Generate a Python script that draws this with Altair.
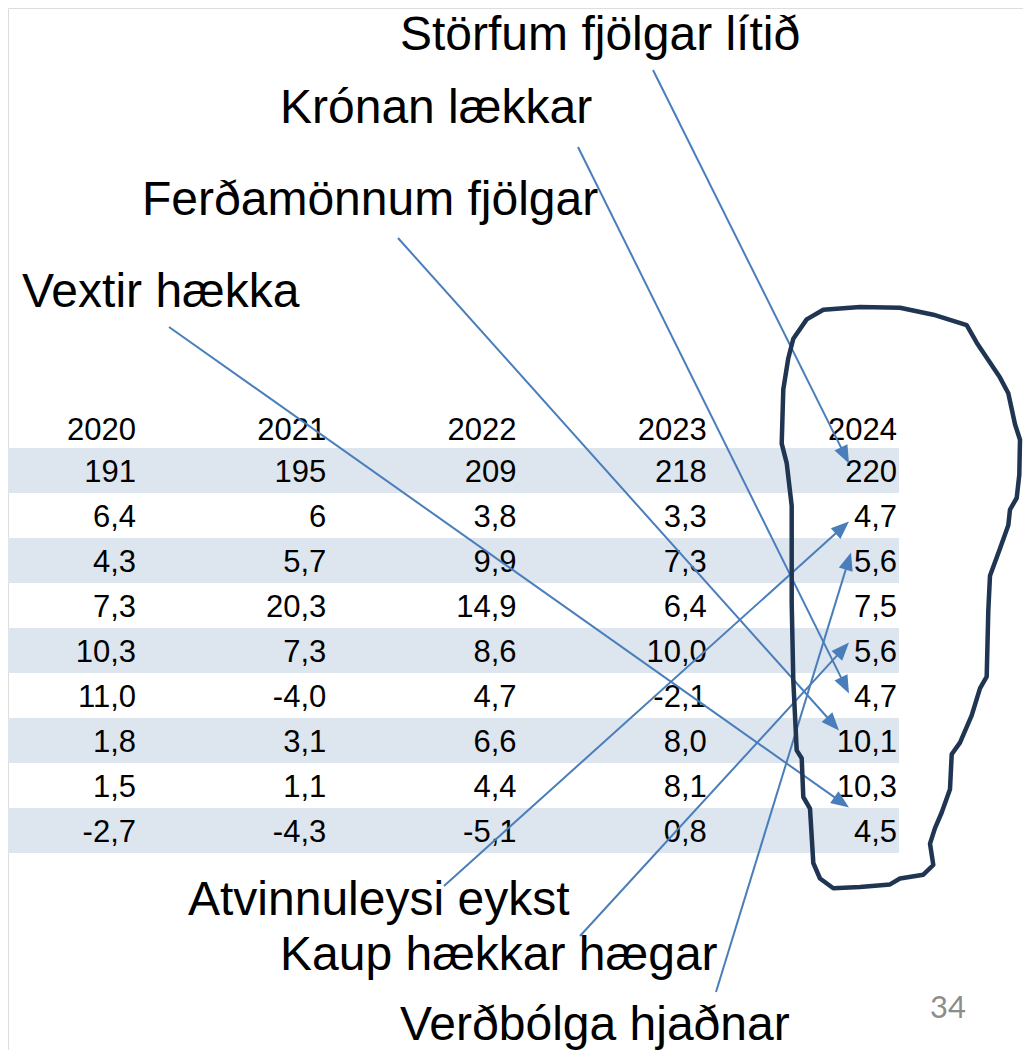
import math
import altair as alt
import pandas as pd

# ---------------- data ----------------
years = ["2020", "2021", "2022", "2023", "2024"]
v2020 = ["191", "6,4", "4,3", "7,3", "10,3", "11,0", "1,8", "1,5", "-2,7"]
v2021 = ["195", "6", "5,7", "20,3", "7,3", "-4,0", "3,1", "1,1", "-4,3"]
v2022 = ["209", "3,8", "9,9", "14,9", "8,6", "4,7", "6,6", "4,4", "-5,1"]
v2023 = ["218", "3,3", "7,3", "6,4", "10,0", "-2,1", "8,0", "8,1", "0,8"]
v2024 = ["220", "4,7", "5,6", "7,5", "5,6", "4,7", "10,1", "10,3", "4,5"]
columns = [v2020, v2021, v2022, v2023, v2024]

labels = ["Störfum fjölgar lítið", "Krónan lækkar", "Ferðamönnum fjölgar",
          "Vextir hækka", "Atvinnuleysi eykst", "Kaup hækkar hægar",
          "Verðbólga hjaðnar"]
label_target_row = [0, 5, 6, 7, 1, 4, 2]   # row in the 2024 column each arrow points to
page_number = "34"

# ---------------- layout (pixels) ----------------
W, H = 1015, 1042
COL_RIGHT0, COL_STEP = 136, 190.25
HEADER_BASE = 440
ROW_TOP0, ROW_H = 448, 45
STRIPE_RIGHT = 899
label_pos = [(400, 50), (280, 123), (142, 215), (22, 307),
             (188, 915), (280, 970), (400, 1040)]
arrow_start = [(653, 70), (578, 147), (398, 238), (169, 327),
               (444, 886), (580, 936), (716, 992)]
arrow_tip = [(849, -7), (849, -2), (839, -10), (849, 22),
             (849, 6), (849, -8), (851, -8)]   # x, offset from row centre
loop_x = [806.7, 823.3, 860, 900, 933.3, 966.7, 976.7, 1000, 1008.3, 1015, 1020,
          1019.3, 1016.7, 1010, 1008.3, 1000, 990, 988.3, 986.7, 980, 971.7, 960,
          951.7, 950, 941.7, 935, 930, 933.3, 923.3, 900, 890, 860, 833.3, 820,
          813.3, 810, 803.3, 801.7, 796.7, 793.3, 791.7, 791.7, 786.7, 781.7,
          783.3, 788.3, 793.3, 806.7]
loop_y = [319.4, 309.7, 307, 307.7, 314.7, 325.2, 342.7, 377.6, 393.2, 424.2, 439.8,
          474.7, 498, 509.6, 525.2, 548.5, 575.7, 610.6, 676.6, 688.3, 715.4, 742.6,
          754.3, 789.2, 812.5, 828.1, 843.6, 865, 874.7, 878.5, 884.4, 887.1, 888.2,
          878.5, 863, 808.6, 797, 758.2, 750.4, 680.5, 603, 505.9, 463.1, 443.6,
          389.3, 358.2, 338.8, 319.4]

BLUE = "#4A7EBB"
NAVY = "#1F3552"
STRIPE = "#DDE5EF"
NUM_FONT = "Liberation Sans Narrow, Arial Narrow, Liberation Sans, Arial, sans-serif"
LBL_FONT = "Liberation Sans, Arial, sans-serif"

X = lambda f="x": alt.X(f"{f}:Q", scale=alt.Scale(domain=[8, 8 + W], nice=False, zero=False), axis=None)
Y = lambda f="y": alt.Y(f"{f}:Q", scale=alt.Scale(domain=[8, 8 + H], nice=False, zero=False, reverse=True), axis=None)


def row_centre(i):
    return ROW_TOP0 + ROW_H * (i + 0.5)


# stripes
nrows = len(v2020)
stripes = pd.DataFrame({
    "x": [0] * nrows, "x2": [STRIPE_RIGHT] * nrows,
    "y": [ROW_TOP0 + ROW_H * i for i in range(nrows)],
    "y2": [ROW_TOP0 + ROW_H * (i + 1) for i in range(nrows)],
    "shade": [i % 2 == 0 for i in range(nrows)],
})
stripes = stripes[stripes["shade"]]

# table cells
cells = []
for c, (yr, vals) in enumerate(zip(years, columns)):
    xr = COL_RIGHT0 + COL_STEP * c
    cells.append({"x": xr, "y": HEADER_BASE, "t": yr})
    for r, v in enumerate(vals):
        cells.append({"x": xr, "y": row_centre(r) + 11.5, "t": v})
cells = pd.DataFrame(cells)

# arrows
arrows, heads = [], []
for i, lab in enumerate(labels):
    sx, sy = arrow_start[i]
    tx = arrow_tip[i][0]
    ty = row_centre(label_target_row[i]) + arrow_tip[i][1]
    dx, dy = tx - sx, ty - sy
    L = math.hypot(dx, dy)
    ux, uy = dx / L, dy / L
    arrows.append({"x": sx, "y": sy, "x2": tx - 8 * ux, "y2": ty - 8 * uy})
    heads.append({"x": tx - 9 * ux, "y": ty - 9 * uy,
                  "a": math.degrees(math.atan2(dx, -dy)) % 360})
arrows = pd.DataFrame(arrows)
heads = pd.DataFrame(heads)

lbls = pd.DataFrame({"x": [p[0] for p in label_pos], "y": [p[1] for p in label_pos], "t": labels})
loop = pd.DataFrame({"x": loop_x, "y": loop_y, "o": list(range(len(loop_x)))})
pg = pd.DataFrame({"x": [966], "y": [1018], "t": [page_number]})

stripe_layer = alt.Chart(stripes).mark_rect(color=STRIPE).encode(
    x=X(), x2="x2:Q", y=Y(), y2="y2:Q")

cell_layer = alt.Chart(cells).mark_text(
    align="right", baseline="alphabetic", font=NUM_FONT, fontSize=31, color="#000000"
).encode(x=X(), y=Y(), text="t:N")

arrow_layer = alt.Chart(arrows).mark_rule(color=BLUE, strokeWidth=2).encode(
    x=X(), y=Y(), x2="x2:Q", y2="y2:Q")

head_layer = alt.Chart(heads).mark_point(
    shape="M0,-1L-0.8,1L0.8,1Z", filled=True, size=324, color=BLUE, opacity=1, strokeWidth=0
).encode(x=X(), y=Y(), angle=alt.Angle("a:Q", scale=None))

loop_layer = alt.Chart(loop).mark_line(
    color=NAVY, strokeWidth=4.5, strokeJoin="round", strokeCap="round"
).encode(x=X(), y=Y(), order="o:Q")

label_layer = alt.Chart(lbls).mark_text(
    align="left", baseline="alphabetic", font=LBL_FONT, fontSize=48, color="#000000"
).encode(x=X(), y=Y(), text="t:N")

page_layer = alt.Chart(pg).mark_text(
    align="right", baseline="alphabetic", font="Lato", fontSize=31, color="#8C8C8C"
).encode(x=X(), y=Y(), text="t:N")

chart = alt.layer(
    stripe_layer, cell_layer, arrow_layer, head_layer, loop_layer, label_layer, page_layer
).properties(
    width=W, height=H, padding=0, autosize=alt.AutoSizeParams(type="none")
).configure_view(stroke=None).configure(background="white")

chart.save("out.html", embed_options={"renderer": "svg", "actions": False})
